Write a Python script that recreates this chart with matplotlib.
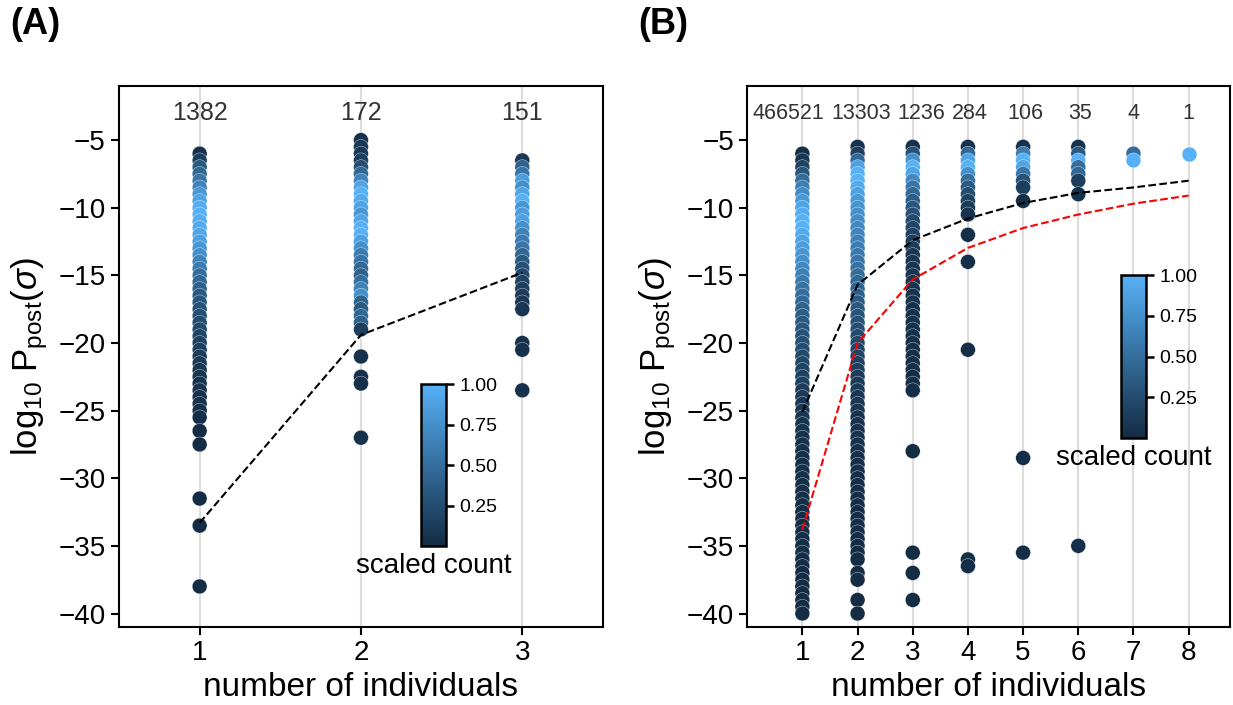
import numpy as np
import matplotlib
matplotlib.use('Agg')
import matplotlib.pyplot as plt
from matplotlib.colors import LinearSegmentedColormap

plt.rcParams['font.family'] = ['Liberation Sans', 'DejaVu Sans']
plt.rcParams['mathtext.fontset'] = 'custom'
plt.rcParams['mathtext.rm'] = 'Liberation Sans'
plt.rcParams['mathtext.it'] = 'Liberation Sans:italic'

# ---- panel A data ----
a_counts = [1382, 172, 151]

a1_y = [-6, -6.5, -7, -7.5, -8, -8.5, -9, -9.5, -10, -10.5, -11, -11.5, -12, -12.5,
        -13, -13.5, -14, -14.5, -15, -15.5, -16, -16.5, -17, -17.5, -18, -18.5,
        -19, -19.5, -20, -20.5, -21, -21.5, -22, -22.5, -23, -23.5, -24, -24.5,
        -25, -25.5, -26.5, -27.5, -31.5, -33.5, -38]
a1_c = [0.05, 0.15, 0.35, 0.45, 0.55, 0.65, 0.8, 0.9, 0.97, 1.0, 0.98, 0.95, 0.92, 0.88,
        0.8, 0.75, 0.66, 0.6, 0.5, 0.45, 0.4, 0.35, 0.32, 0.3, 0.27, 0.24,
        0.22, 0.2, 0.17, 0.15, 0.13, 0.11, 0.09, 0.08, 0.07, 0.06, 0.05, 0.04,
        0.03, 0.03, 0.01, 0.01, 0.01, 0.01, 0.01]

a2_y = [-5, -5.5, -6, -6.5, -7, -7.5, -8, -8.5, -9, -9.5, -10, -10.5, -11, -11.5,
        -12, -12.5, -13, -13.5, -14, -14.5, -15, -15.5, -16, -16.5, -17, -17.5,
        -18, -18.5, -19, -21, -22.5, -23, -27]
a2_c = [0.05, 0.1, 0.1, 0.15, 0.25, 0.45, 0.65, 0.9, 1.0, 0.95, 0.9, 0.8, 0.92, 1.0,
        1.0, 0.88, 0.75, 0.6, 0.55, 0.45, 0.4, 0.5, 0.65, 0.75, 0.4, 0.35,
        0.45, 0.4, 0.15, 0.05, 0.05, 0.05, 0.05]

a3_y = [-6.5, -7, -7.5, -8, -8.5, -9, -9.5, -10, -10.5, -11, -11.5, -12, -12.5,
        -13, -13.5, -14, -14.5, -15, -15.5, -16, -16.5, -17, -17.5, -20, -20.5, -23.5]
a3_c = [0.1, 0.4, 0.55, 0.85, 0.75, 0.9, 1.0, 0.8, 0.85, 0.88, 0.75, 0.65, 0.6,
        0.55, 0.45, 0.35, 0.28, 0.22, 0.18, 0.16, 0.13, 0.1, 0.08, 0.05, 0.05, 0.05]

a_line_y = [-33.3, -19.4, -14.8]

# ---- panel B data ----
b_counts = [466521, 13303, 1236, 284, 106, 35, 4, 1]
b_label_shift = [-10, 2.5, 6, 1, 1.5, 1, 0, 0]

b1_y = [-6, -6.5, -7, -7.5, -8, -8.5, -9, -9.5, -10, -10.5, -11, -11.5, -12, -12.5,
        -13, -13.5, -14, -14.5, -15, -15.5, -16, -16.5, -17, -17.5, -18, -18.5,
        -19, -19.5, -20, -20.5, -21, -21.5, -22, -22.5, -23, -23.5, -24, -24.5,
        -25, -25.5, -26, -26.5, -27, -27.5, -28, -28.5, -29, -29.5, -30, -30.5,
        -31, -31.5, -32, -32.5, -33, -33.5, -34, -34.5, -35, -35.5, -36, -36.5,
        -37, -37.5, -38, -38.5, -39, -39.5, -40]
b1_c = [0.03, 0.08, 0.18, 0.32, 0.48, 0.62, 0.72, 0.82, 0.9, 0.97, 1.0, 1.0, 0.95, 0.9,
        0.85, 0.8, 0.75, 0.7, 0.64, 0.58, 0.53, 0.49, 0.45, 0.41, 0.38, 0.35,
        0.32, 0.29, 0.27, 0.25, 0.23, 0.21, 0.19, 0.17, 0.15, 0.13, 0.11, 0.1,
        0.09, 0.08, 0.07, 0.06, 0.05, 0.05, 0.04, 0.04, 0.03, 0.03, 0.03, 0.03,
        0.03, 0.03, 0.02, 0.02, 0.02, 0.02, 0.02, 0.02, 0.02, 0.02, 0.02, 0.02,
        0.01, 0.01, 0.01, 0.01, 0.01, 0.01, 0.01]

b2_y = [-5.5, -6, -6.5, -7, -7.5, -8, -8.5, -9, -9.5, -10, -10.5, -11, -11.5, -12,
        -12.5, -13, -13.5, -14, -14.5, -15, -15.5, -16, -16.5, -17, -17.5, -18,
        -18.5, -19, -19.5, -20, -20.5, -21, -21.5, -22, -22.5, -23, -23.5, -24,
        -24.5, -25, -25.5, -26, -26.5, -27, -27.5, -28, -28.5, -29, -29.5, -30,
        -30.5, -31, -31.5, -32, -32.5, -33, -33.5, -34, -34.5, -35, -35.5, -36,
        -37, -37.5, -39, -40]
b2_c = [0.05, 0.15, 0.45, 0.88, 1.0, 1.0, 0.95, 0.88, 0.82, 0.78, 0.75, 0.72, 0.7, 0.67,
        0.64, 0.61, 0.58, 0.55, 0.52, 0.48, 0.45, 0.42, 0.39, 0.36, 0.33, 0.3,
        0.28, 0.26, 0.24, 0.22, 0.2, 0.18, 0.16, 0.15, 0.13, 0.12, 0.11, 0.1,
        0.09, 0.08, 0.07, 0.07, 0.06, 0.06, 0.05, 0.05, 0.04, 0.04, 0.04, 0.03,
        0.03, 0.03, 0.03, 0.02, 0.02, 0.02, 0.02, 0.02, 0.02, 0.01, 0.01, 0.01,
        0.01, 0.01, 0.01, 0.01]

b3_y = [-5.5, -6, -6.5, -7, -7.5, -8, -8.5, -9, -9.5, -10, -10.5, -11, -11.5, -12,
        -12.5, -13, -13.5, -14, -14.5, -15, -15.5, -16, -16.5, -17, -17.5, -18,
        -18.5, -19, -19.5, -20, -20.5, -21, -21.5, -22, -22.5, -23, -23.5,
        -28, -35.5, -37, -39]
b3_c = [0.05, 0.3, 0.75, 1.0, 0.9, 0.7, 0.55, 0.45, 0.38, 0.32, 0.28, 0.24, 0.2, 0.17,
        0.14, 0.12, 0.1, 0.09, 0.08, 0.08, 0.07, 0.07, 0.06, 0.06, 0.05, 0.05,
        0.05, 0.05, 0.05, 0.04, 0.04, 0.03, 0.03, 0.03, 0.02, 0.02, 0.02,
        0.01, 0.01, 0.01, 0.01]

b4_y = [-5.5, -6, -6.5, -7, -7.5, -8, -8.5, -9, -9.5, -10, -10.5, -12, -14, -20.5, -36, -36.5]
b4_c = [0.05, 0.45, 0.9, 1.0, 0.75, 0.5, 0.35, 0.25, 0.18, 0.12, 0.06, 0.03, 0.03, 0.02, 0.02, 0.02]

b5_y = [-5.5, -6, -6.5, -7, -7.5, -8, -8.5, -9.5, -28.5, -35.5]
b5_c = [0.05, 0.6, 1.0, 0.9, 0.55, 0.3, 0.15, 0.03, 0.02, 0.02]

b6_y = [-5.5, -6, -6.5, -7, -7.5, -8, -9, -35]
b6_c = [0.05, 0.35, 1.0, 0.5, 0.45, 0.15, 0.05, 0.03]

b7_y = [-6, -6.5]
b7_c = [0.5, 1.0]

b8_y = [-6]
b8_c = [1.0]

b_black_y = [-25.1, -15.7, -12.4, -10.8, -9.65, -8.9, -8.5, -8.0]
b_red_y = [-33.8, -20.0, -15.3, -12.97, -11.5, -10.5, -9.7, -9.1]

cmap = LinearSegmentedColormap.from_list('gg', ['#132B43', '#56B1F7'])
ylab = r'log$_{10}$ P$_{\mathrm{post}}$($\sigma$)'


def style_axes(ax, nx):
    ax.set_xticks(range(1, nx + 1))
    ax.set_yticks([-5, -10, -15, -20, -25, -30, -35, -40])
    ax.set_ylim(-41, -1)
    ax.grid(axis='x', color='#dddddd', linewidth=1.5)
    ax.grid(axis='y', visible=False)
    ax.set_axisbelow(True)
    for sp in ax.spines.values():
        sp.set_linewidth(1.5)
    ax.tick_params(labelsize=20, length=6, width=1.5)
    ax.set_xlabel('number of individuals', fontsize=24)
    ax.set_ylabel(ylab, fontsize=25, labelpad=6)


def add_cbar(fig, sc, rect):
    cax = fig.add_axes(rect)
    cb = fig.colorbar(sc, cax=cax, ticks=[0.25, 0.5, 0.75, 1.0])
    cb.outline.set_linewidth(1.8)
    cax.tick_params(labelsize=14, length=6, width=1.8)
    cax.set_xlabel('scaled count', fontsize=20, labelpad=5)
    return cb


fig = plt.figure(figsize=(12.33, 7.05), dpi=100)
axA = fig.add_axes([0.0965, 0.1106, 0.3925, 0.7674])
axB = fig.add_axes([0.606, 0.1106, 0.3916, 0.7674])

# panel A
colsA = [(a1_y, a1_c), (a2_y, a2_c), (a3_y, a3_c)]
for i, (yy, cc) in enumerate(colsA):
    sc = axA.scatter(np.full(len(yy), i + 1), yy, c=cc, cmap=cmap, vmin=0, vmax=1,
                     s=115, edgecolors='white', linewidths=0.25, zorder=2)
    axA.text(i + 1, -3, str(a_counts[i]), ha='center', va='center',
             fontsize=18, color='#333333')
axA.plot([1, 2, 3], a_line_y, '--', color='black', lw=1.5, zorder=3)
axA.set_xlim(0.5, 3.5)
style_axes(axA, 3)
add_cbar(fig, sc, [0.3414, 0.2255, 0.0203, 0.2298])

# panel B
colsB = [(b1_y, b1_c), (b2_y, b2_c), (b3_y, b3_c), (b4_y, b4_c),
         (b5_y, b5_c), (b6_y, b6_c), (b7_y, b7_c), (b8_y, b8_c)]
for i, (yy, cc) in enumerate(colsB):
    sc = axB.scatter(np.full(len(yy), i + 1), yy, c=cc, cmap=cmap, vmin=0, vmax=1,
                     s=115, edgecolors='white', linewidths=0.25, zorder=2)
    axB.annotate(str(b_counts[i]), (i + 1, -3), xytext=(b_label_shift[i], 0),
                 textcoords='offset points', ha='center', va='center',
                 fontsize=15.5, color='#333333')
xs = list(range(1, 9))
axB.plot(xs, b_black_y, '--', color='black', lw=1.5, zorder=3)
axB.plot(xs, b_red_y, '--', color='red', lw=1.5, zorder=3)
axB.set_xlim(0, 8.75)
style_axes(axB, 8)
add_cbar(fig, sc, [0.909, 0.3787, 0.0203, 0.231])

fig.text(0.008, 0.99, '(A)', fontsize=26, fontweight='bold', va='top')
fig.text(0.518, 0.99, '(B)', fontsize=26, fontweight='bold', va='top')

fig.savefig('out.png', dpi=100)
